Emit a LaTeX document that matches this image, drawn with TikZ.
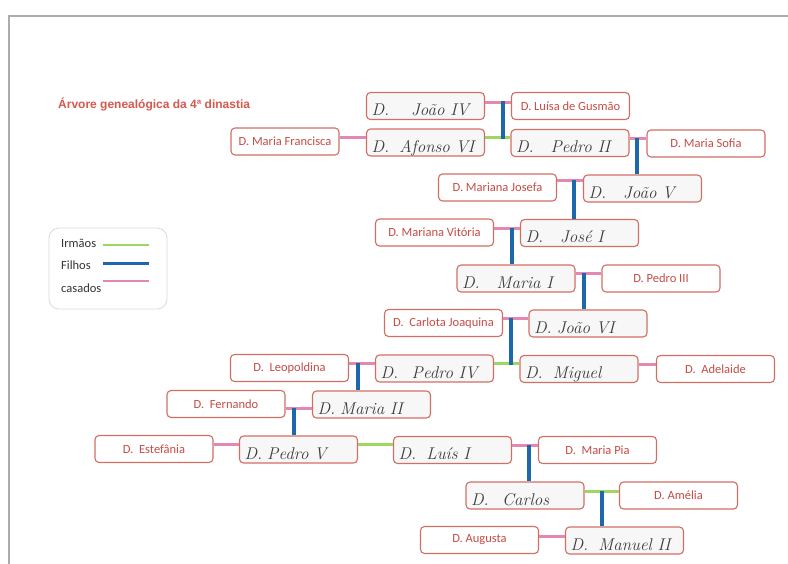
\documentclass[tikz,border=0pt]{standalone}
\usepackage{fontspec}
\setmainfont{Carlito}
\newfontfamily\titlefont{Liberation Sans}
\newcommand{\handwriting}{\usefont{TU}{lmr}{m}{it}}

\definecolor{boxred}{RGB}{208,112,100}
\definecolor{namered}{RGB}{198,76,70}
\definecolor{titlered}{RGB}{214,88,78}
\definecolor{pinkline}{RGB}{228,135,180}
\definecolor{blueline}{RGB}{28,104,170}
\definecolor{greenline}{RGB}{158,214,98}
\definecolor{ink}{RGB}{60,60,60}
\definecolor{framegrey}{RGB}{172,172,172}
\definecolor{legendgrey}{RGB}{218,218,218}
\definecolor{legendtext}{RGB}{50,50,50}

\begin{document}
\begin{tikzpicture}[x=1pt,y=-1pt,
  person/.style={draw=boxred, fill=white, line width=1.1pt, rounded corners=4pt,
    minimum width=118pt, minimum height=27pt, inner sep=0pt,
    text=namered, font=\fontsize{12.5}{14}\selectfont},
  monarch/.style={person, fill=gray!6, text=ink,
    font=\handwriting\fontsize{17}{18}\selectfont, align=left,
    text width=108pt, inner xsep=5pt, inner ysep=0pt,
    text height=23pt, text depth=4pt, minimum height=0pt},
  casado/.style={draw=pinkline, line width=3pt},
  filho/.style={draw=blueline, line width=3.4pt},
  irmao/.style={draw=greenline, line width=3pt},
  legendlabel/.style={anchor=west, inner sep=0pt, text=legendtext,
    font=\fontsize{12.5}{14}\selectfont}
]
\useasboundingbox (0,0) rectangle (788,563);

% page frame
\draw[framegrey, line width=2pt] (790,16) -- (9,16) -- (9,565);

% title
\node[anchor=base west, inner sep=0pt, text=titlered,
  font=\titlefont\bfseries\fontsize{12}{14}\selectfont] (title) at (58,108)
  {Árvore genealógica da 4ª dinastia};

% legend
\node[draw=legendgrey, line width=0.8pt, rounded corners=10pt,
  minimum width=118pt, minimum height=81pt, inner sep=0pt] (legend) at (108,268.5) {};
\node[legendlabel] (lirmaos) at (61,243) {Irmãos};
\node[legendlabel] (lfilhos) at (61,265) {Filhos};
\node[legendlabel] (lcasados) at (61,288) {casados};
\coordinate (lg) at (103,245);
\coordinate (lb) at (103,263.5);
\coordinate (lp) at (103,281);
\draw[irmao, line width=2.6pt] (lg) -- ++(46,0);
\draw[filho, line width=2.6pt] (lb) -- ++(46,0);
\draw[casado, line width=2.6pt] (lp) -- ++(46,0);

% people
\node[monarch] (joao4)   at (425.5,106)   {D.\hspace{1.3em}João IV};
\node[person]  (luisa)   at (570.5,106)   {D. Luísa de Gusmão};
\node[person, minimum width=108pt] (mfrancisca) at (285,141.5) {D. Maria Francisca};
\node[monarch] (afonso6) at (425.5,142.5) {D.\hspace{0.6em}Afonso VI};
\node[monarch] (pedro2)  at (570,143)     {D.\hspace{1em}Pedro II};
\node[monarch] (joao5)   at (642.5,188.5) {D.\hspace{1em}João V};
\node[person]  (msofia)  at (706,143.5)   {D. Maria Sofia};
\node[person]  (mjosefa) at (497.5,187.5) {D. Mariana Josefa};
\node[person]  (mvitoria) at (434.5,232.5) {D. Mariana Vitória};
\node[monarch] (jose1)   at (579.5,233)   {D.\hspace{1em}José I};
\node[monarch] (maria1)  at (516,278.5)   {D.\hspace{1em}Maria I};
\node[person]  (pedro3)  at (661,278.5)   {D. Pedro III};
\node[person]  (carlota) at (443.5,323)   {D.\ \ Carlota Joaquina};
\node[monarch] (joao6)   at (588,323.5)   {D.\hspace{0.3em}João VI};
\node[person]  (leopoldina) at (289.5,368) {D.\ \ Leopoldina};
\node[monarch] (pedro4)  at (434.5,368.5) {D.\hspace{0.8em}Pedro IV};
\node[monarch] (miguel)  at (579,369)     {D.\hspace{0.6em}Miguel};
\node[person]  (adelaide) at (715.5,369)  {D.\ \ Adelaide};
\node[person]  (fernando) at (226,404)    {D.\ \ Fernando};
\node[monarch] (maria2)  at (371.5,404.5) {D.\hspace{0.3em}Maria II};
\node[person]  (estefania) at (154,449)   {D.\ \ Estefânia};
\node[monarch] (pedro5)  at (298.5,449.5) {D.\hspace{0.3em}Pedro V};
\node[monarch] (luis1)   at (452.5,450)   {D.\hspace{0.6em}Luís I};
\node[person]  (mariapia) at (597.5,450)  {D.\ \ Maria Pia};
\node[monarch] (carlos)  at (525,495.5)   {D.\hspace{0.8em}Carlos};
\node[person]  (amelia)  at (678.5,495.5) {D. Amélia};
\node[person]  (augusta) at (479.5,540)   {D. Augusta};
\node[monarch] (manuel2) at (624.5,540.5) {D.\hspace{0.6em}Manuel II};

% junction points of the connectors
\coordinate (c1)  at (503,102);
\coordinate (s1)  at (503,137);
\coordinate (c2)  at (637,138);
\coordinate (c3)  at (574,180);
\coordinate (c4)  at (512,228);
\coordinate (c5)  at (584,273);
\coordinate (c6)  at (511,318);
\coordinate (s2)  at (511,363);
\coordinate (c7)  at (358,363);
\coordinate (c8)  at (647,364);
\coordinate (c9)  at (294,408);
\coordinate (s3)  at (375,444);
\coordinate (c10) at (529,445);
\coordinate (c11) at (602,491);
\coordinate (c12) at (552,536);

% marriages
\draw[casado] (joao4.east |- c1) -- (luisa.west |- c1);
\draw[casado] (mfrancisca.east |- s1) -- (afonso6.west |- s1);
\draw[casado] (pedro2.east |- c2) -- (msofia.west |- c2);
\draw[casado] (mjosefa.east |- c3) -- (joao5.west |- c3);
\draw[casado] (mvitoria.east |- c4) -- (jose1.west |- c4);
\draw[casado] (maria1.east |- c5) -- (pedro3.west |- c5);
\draw[casado] (carlota.east |- c6) -- (joao6.west |- c6);
\draw[casado] (leopoldina.east |- c7) -- (pedro4.west |- c7);
\draw[casado] (miguel.east |- c8) -- (adelaide.west |- c8);
\draw[casado] (fernando.east |- c9) -- (maria2.west |- c9);
\draw[casado] (estefania.east |- s3) -- (pedro5.west |- s3);
\draw[casado] (luis1.east |- c10) -- (mariapia.west |- c10);
\draw[casado] (augusta.east |- c12) -- (manuel2.west |- c12);

% siblings
\draw[irmao] (afonso6.east |- s1) -- (pedro2.west |- s1);
\draw[irmao] (pedro4.east |- s2) -- (miguel.west |- s2);
\draw[irmao] (pedro5.east |- s3) -- (luis1.west |- s3);
\draw[irmao] (carlos.east |- c11) -- (amelia.west |- c11);

% children
\draw[filho] ([yshift=1.5pt]c1) -- ([yshift=-1.5pt]s1);
\draw[filho] (c2) -- (c2 |- joao5.north);
\draw[filho] (c3) -- (c3 |- jose1.north);
\draw[filho] (c4) -- (c4 |- maria1.north);
\draw[filho] (c5) -- (c5 |- joao6.north);
\draw[filho] (c6) -- ([yshift=-1.5pt]s2);
\draw[filho] (c7) -- (c7 |- maria2.north);
\draw[filho] (c9) -- (c9 |- pedro5.north);
\draw[filho] (c10) -- (c10 |- carlos.north);
\draw[filho] (c11) -- (c11 |- manuel2.north);
\end{tikzpicture}
\end{document}
